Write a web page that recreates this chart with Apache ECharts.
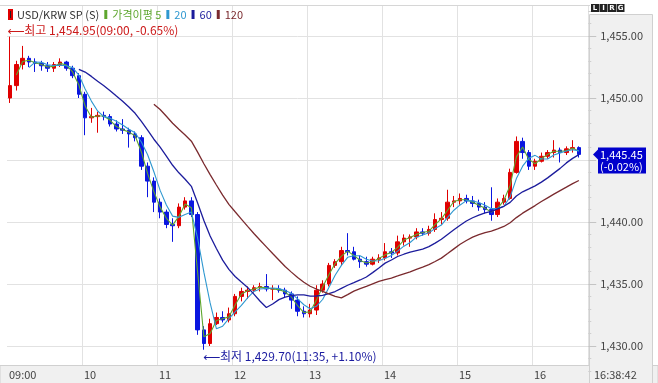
<!DOCTYPE html>
<html><head><meta charset="utf-8">
<script src="https://cdn.jsdelivr.net/npm/echarts@6/dist/echarts.min.js"></script>
<style>html,body{margin:0;padding:0;background:#fff}#c{width:658px;height:383px}</style>
</head><body><div id="c"></div>
<script>
// 5-minute bars, 09:00 .. 16:38
const opens = [1450.0,1451.0,1452.7,1453.2,1452.9,1452.8,1452.6,1452.4,1452.7,1452.9,1452.4,1451.8,
 1450.3,1448.4,1448.5,1448.6,1448.5,1447.9,1447.5,1447.4,1447.1,1446.8,1444.5,1443.3,
 1441.6,1440.8,1439.8,1439.7,1441.2,1441.7,1440.6,1431.3,1430.2,1431.8,1432.3,1432.1,
 1432.6,1434.0,1434.4,1434.5,1434.7,1434.8,1434.6,1434.6,1434.5,1434.2,1433.7,1432.8,
 1432.6,1432.9,1434.5,1435.0,1436.5,1436.8,1437.7,1437.6,1437.0,1436.8,1436.6,1437.0,
 1437.1,1437.6,1437.5,1438.4,1438.7,1438.8,1439.2,1439.1,1439.4,1440.2,1440.3,1441.6,
 1441.7,1441.9,1441.7,1441.5,1441.2,1441.0,1440.6,1441.6,1441.9,1444.0,1446.5,1445.6,
 1444.5,1444.9,1445.3,1445.6,1445.8,1445.6,1445.9,1446.0];
const closes = [1451.0,1452.7,1453.2,1452.9,1452.8,1452.6,1452.4,1452.7,1452.9,1452.4,1451.8,1450.3,
 1448.4,1448.5,1448.6,1448.5,1447.9,1447.5,1447.4,1447.1,1446.8,1444.5,1443.3,1441.6,
 1440.8,1439.8,1439.7,1441.2,1441.7,1440.6,1431.3,1430.2,1431.8,1432.3,1432.1,1432.6,
 1434.0,1434.4,1434.5,1434.7,1434.8,1434.6,1434.6,1434.5,1434.2,1433.7,1432.8,1432.6,
 1432.9,1434.5,1435.0,1436.5,1436.8,1437.7,1437.6,1437.0,1436.8,1436.6,1437.0,1437.1,
 1437.6,1437.5,1438.4,1438.7,1438.8,1439.2,1439.1,1439.4,1440.2,1440.3,1441.6,1441.7,
 1441.9,1441.7,1441.5,1441.2,1441.0,1440.6,1441.6,1441.9,1444.0,1446.5,1445.6,1444.5,
 1444.9,1445.3,1445.6,1445.8,1445.6,1445.9,1446.0,1445.45];
const lows = [1449.6,1450.6,1452.3,1452.5,1452.1,1452.2,1452.1,1452.1,1452.5,1452.2,1451.6,1450.0,
 1447.0,1448.0,1447.2,1448.2,1447.7,1447.3,1447.1,1446.0,1446.5,1444.2,1442.0,1440.8,
 1440.3,1439.5,1438.4,1439.5,1441.0,1440.4,1430.9,1429.7,1430.0,1431.7,1431.9,1431.9,
 1432.4,1433.6,1433.8,1434.3,1434.4,1434.4,1433.7,1434.3,1433.9,1433.0,1432.4,1432.3,
 1432.3,1432.5,1434.3,1434.8,1436.3,1436.5,1437.3,1436.9,1436.3,1436.4,1436.5,1436.7,
 1436.9,1437.1,1437.3,1438.1,1438.0,1438.6,1438.9,1438.9,1439.2,1439.8,1440.1,1441.2,
 1441.4,1441.5,1441.2,1440.9,1440.7,1440.1,1440.4,1441.4,1441.8,1443.9,1445.1,1444.2,
 1444.2,1444.8,1445.1,1445.2,1444.8,1445.4,1445.6,1445.2];
const highs = [1454.95,1453.0,1454.2,1453.4,1453.2,1453.0,1452.9,1452.9,1453.2,1453.0,1452.6,1452.0,
 1450.5,1449.2,1448.9,1448.9,1448.7,1448.2,1448.3,1447.6,1447.3,1447.0,1444.8,1443.6,
 1441.9,1441.0,1440.3,1441.5,1442.0,1442.0,1440.8,1431.6,1432.2,1432.7,1432.8,1433.1,
 1434.2,1434.7,1434.8,1434.9,1435.1,1435.8,1434.9,1434.9,1434.7,1434.4,1434.0,1433.2,
 1433.4,1434.9,1435.3,1436.7,1437.0,1438.0,1439.1,1438.0,1437.3,1437.2,1437.2,1437.4,
 1438.3,1437.9,1438.9,1439.0,1439.0,1439.5,1439.5,1439.7,1440.7,1440.8,1442.6,1442.1,
 1442.3,1442.2,1442.1,1441.8,1441.6,1442.8,1441.9,1442.2,1444.3,1446.9,1446.8,1445.8,
 1445.1,1445.6,1445.8,1446.6,1446.0,1446.1,1446.6,1446.1];
const yTicks = [1430, 1435, 1440, 1445, 1450, 1455];
const hourLabels = ['09:00', '10', '11', '12', '13', '14', '15', '16'];
const maNames = ['가격이평 5', '20', '60', '120'];
const maBars = [2, 4, 12, 24];           // 5, 20, 60, 120 minutes in 5-minute bars
const maColors = ['#5ea62e', '#2f98d0', '#1c1c9c', '#7a2a2e'];
const hiNote = '⟵최고 1,454.95(09:00, -0.65%)';
const loNote = '⟵최저 1,429.70(11:35, +1.10%)';
const lastChange = '(-0.02%)';
const clockLabel = '16:38:42';

const FONT = '"Noto Sans CJK KR", "DejaVu Sans", sans-serif';
const cats = [];
for (let i = 0; i < 93; i++) {
  const m = i * 5, h = 9 + Math.floor(m / 60), mm = m % 60;
  cats.push(String(h).padStart(2, '0') + ':' + String(mm).padStart(2, '0'));
}
const candle = opens.map((o, i) => [o, closes[i], lows[i], highs[i]]);
function movingAvg(n) {
  return closes.map((c, i) => i < n - 1 ? '-' :
    +(closes.slice(i - n + 1, i + 1).reduce((a, b) => a + b, 0) / n).toFixed(3));
}
const fmt = v => v.toLocaleString('en-US', {minimumFractionDigits: 2, maximumFractionDigits: 2});

const chart = echarts.init(document.getElementById('c'));
const series = [{
  name: 'USD/KRW SP (S)', type: 'candlestick', data: candle, barWidth: 4,
  itemStyle: {color: '#e00000', color0: '#0a16e0', borderColor: '#e00000', borderColor0: '#0a16e0', borderWidth: 1}
}];
maNames.forEach((n, k) => series.push({
  name: n, type: 'line', data: movingAvg(maBars[k]), symbol: 'none', showSymbol: false,
  lineStyle: {width: k >= 2 ? 1.3 : 1.1, color: maColors[k]}, itemStyle: {color: maColors[k]}
}));

chart.setOption({
  animation: false,
  backgroundColor: '#fff',
  textStyle: {fontFamily: FONT},
  grid: [{left: 7, top: -26, width: 581.25, height: 434, outerBoundsMode: 'none', containLabel: false},
         {left: 7, top: 365, width: 575, height: 18, outerBoundsMode: 'none', containLabel: false}],
  xAxis: [
    {type: 'category', data: cats, gridIndex: 0, axisLine: {show: false}, axisTick: {show: false}, axisLabel: {show: false},
     splitLine: {show: true, interval: i => i % 12 === 0 && i > 0, lineStyle: {color: '#e2e2e2'}}},
    {type: 'category', data: cats, gridIndex: 1, position: 'top', boundaryGap: false, z: 20, axisLine: {show: false}, axisTick: {show: false},
     axisLabel: {inside: true, margin: 4, interval: i => i % 12 === 0, align: 'left', padding: [0, 0, 0, 2], color: '#444', fontSize: 11, fontFamily: FONT,
       formatter: (v, i) => (i % 12 === 0 && hourLabels[i / 12]) ? hourLabels[i / 12] : ''}, splitLine: {show: false}}
  ],
  yAxis: [
    {type: 'value', gridIndex: 0, min: 1425, max: 1460, interval: 5, axisLine: {show: false}, axisTick: {show: false},
     axisLabel: {show: false}, splitLine: {lineStyle: {color: '#e2e2e2'}}},
    {type: 'value', gridIndex: 0, position: 'right', min: 1425, max: 1460, interval: 5, z: 20, axisLine: {show: false},
     axisTick: {show: true, length: 8, lineStyle: {color: '#c4c4c4'}},
     minorTick: {show: true, splitNumber: 5, length: 3, lineStyle: {color: '#cfcfcf'}},
     axisLabel: {margin: 12, color: '#444', fontSize: 11, fontFamily: FONT, formatter: v => yTicks.includes(v) ? fmt(v) : ''},
     splitLine: {show: false}},
    {type: 'value', gridIndex: 1, show: false, min: 0, max: 1}
  ],
  legend: {left: 8, top: 9, itemWidth: 3, itemHeight: 9, itemGap: 5, icon: 'rect', padding: 0,
    textStyle: {fontSize: 11, fontFamily: FONT},
    data: [{name: 'USD/KRW SP (S)', itemStyle: {color: '#222'}, textStyle: {color: '#333'}}].concat(
      maNames.map((n, k) => ({name: n, itemStyle: {color: maColors[k]}, textStyle: {color: maColors[k]}})))},
  series: series
});

const hiP = chart.convertToPixel({gridIndex: 0}, [0, highs[0]]);
const loIdx = lows.indexOf(Math.min(...lows));
const loP = chart.convertToPixel({gridIndex: 0}, [loIdx, lows[loIdx]]);
const lastP = chart.convertToPixel({gridIndex: 0}, [closes.length - 1, closes[closes.length - 1]]);
const py = lastP[1];
const NOTE_FONT = '12px ' + FONT;
const els = [
  {type: 'rect', z: 10, shape: {x: 0, y: 0, width: 590, height: 5}, style: {fill: '#fff'}},
  {type: 'line', z: 11, shape: {x1: 0, y1: 5.5, x2: 590, y2: 5.5}, style: {stroke: '#d6d6d6', lineWidth: 1}},
  {type: 'rect', z: 10, shape: {x: 0, y: 365.5, width: 658, height: 18}, style: {fill: '#f0f0f0', stroke: '#d0d0d0', lineWidth: 1}},
  {type: 'rect', z: 11, shape: {x: 589.5, y: 14.5, width: 63, height: 369}, style: {fill: '#f0f0f0', stroke: '#d0d0d0', lineWidth: 1}},
  {type: 'text', z: 21, style: {x: 594, y: 375, text: clockLabel, fill: '#444', font: '11px ' + FONT, verticalAlign: 'middle'}},
  {type: 'text', z: 21, style: {x: hiP[0] - 3, y: hiP[1] - 6, text: hiNote, fill: '#cc1a1a', font: NOTE_FONT, verticalAlign: 'middle'}},
  {type: 'text', z: 21, style: {x: loP[0] - 1, y: loP[1] + 7, text: loNote, fill: '#1c1ca0', font: NOTE_FONT, verticalAlign: 'middle'}},
  {type: 'polygon', z: 22, shape: {points: [[593, py], [598, py - 5], [598, py + 5]]}, style: {fill: '#0000cc'}},
  {type: 'rect', z: 22, shape: {x: 598, y: py - 7, width: 48, height: 26}, style: {fill: '#0000cc'}},
  {type: 'text', z: 23, style: {x: 600, y: py, text: fmt(closes[closes.length - 1]), fill: '#fff', font: '11px ' + FONT, verticalAlign: 'middle'}},
  {type: 'text', z: 23, style: {x: 600, y: py + 12, text: lastChange, fill: '#fff', font: '11px ' + FONT, verticalAlign: 'middle'}}
];
['L', 'I', 'R', 'G'].forEach((t, i) => {
  els.push({type: 'rect', z: 22, shape: {x: 591 + i * 8.5, y: 4, width: 8, height: 8}, style: {fill: '#222'}});
  els.push({type: 'text', z: 23, style: {x: 595 + i * 8.5, y: 8.5, text: t, fill: '#fff', font: 'bold 7px "DejaVu Sans"', align: 'center', verticalAlign: 'middle'}});
});
chart.setOption({graphic: {elements: els}});
</script></body></html>
